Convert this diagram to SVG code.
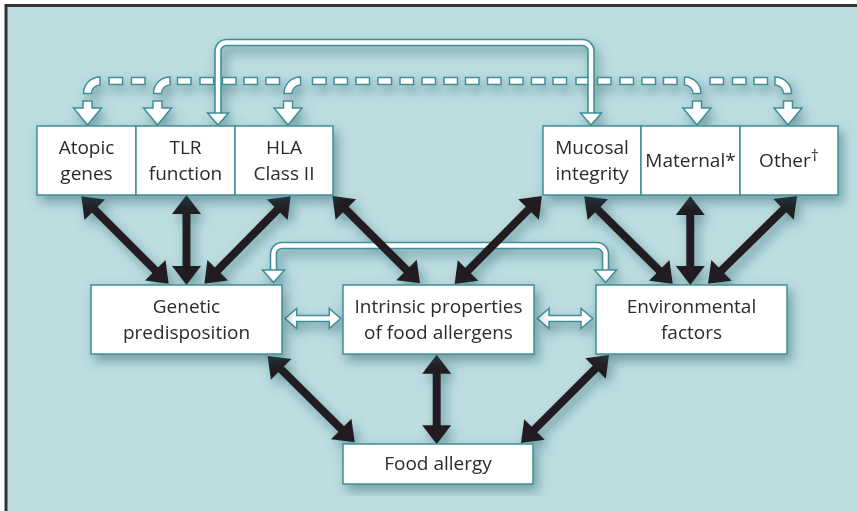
<svg xmlns="http://www.w3.org/2000/svg" width="857" height="511" viewBox="0 0 857 511">
<defs>
<filter id="sh" x="-20%" y="-20%" width="140%" height="150%">
<feDropShadow dx="4" dy="6" stdDeviation="6" flood-color="#1f5d66" flood-opacity="0.5"/>
</filter>
<marker id="bh" markerUnits="userSpaceOnUse" markerWidth="40" markerHeight="40" refX="8" refY="0" orient="auto-start-reverse" overflow="visible">
<path d="M0,-14.5 L19,0 L0,14.5 Z" fill="#231f20"/>
</marker>
<style>
.box{fill:#fff;stroke:#3f8f97;stroke-width:1.5}
.t{font-family:"Open Sans","Liberation Sans",sans-serif;font-size:19px;fill:#2b2b2b;text-anchor:middle}
.dash,.hol{fill:#fff;stroke:#3f8f97;stroke-width:1.5}
.blk{stroke:#231f20;stroke-width:8;fill:none;marker-start:url(#bh);marker-end:url(#bh)}
.lo{fill:none;stroke:#3f8f97;stroke-width:7.6}
.li{fill:none;stroke:#fff;stroke-width:4.4}
</style>
</defs>
<rect x="0" y="0" width="857" height="511" fill="#fff"/>
<rect x="6" y="5.5" width="870" height="520" fill="#bddde1" stroke="#333" stroke-width="3"/>

<g id="connectors" filter="url(#sh)">
<g id="dashed-links">
<rect class="dash" x="109" y="77.5" width="13.5" height="7"/>
<rect class="dash" x="131.5" y="77.5" width="13.5" height="7"/>
<rect class="dash" x="177.5" y="77.5" width="13.5" height="7"/>
<rect class="dash" x="200" y="77.5" width="13.5" height="7"/>
<rect class="dash" x="222.5" y="77.5" width="13.5" height="7"/>
<rect class="dash" x="244" y="77.5" width="13.5" height="7"/>
<rect class="dash" x="266" y="77.5" width="13.5" height="7"/>
<rect class="dash" x="312.5" y="77.5" width="13.5" height="7"/>
<rect class="dash" x="334" y="77.5" width="13.5" height="7"/>
<rect class="dash" x="356" y="77.5" width="13.5" height="7"/>
<rect class="dash" x="378" y="77.5" width="13.5" height="7"/>
<rect class="dash" x="400" y="77.5" width="13.5" height="7"/>
<rect class="dash" x="422" y="77.5" width="13.5" height="7"/>
<rect class="dash" x="444" y="77.5" width="13.5" height="7"/>
<rect class="dash" x="465.5" y="77.5" width="13.5" height="7"/>
<rect class="dash" x="487.5" y="77.5" width="13.5" height="7"/>
<rect class="dash" x="509.5" y="77.5" width="13.5" height="7"/>
<rect class="dash" x="531.5" y="77.5" width="13.5" height="7"/>
<rect class="dash" x="553" y="77.5" width="13.5" height="7"/>
<rect class="dash" x="576" y="77.5" width="13.5" height="7"/>
<rect class="dash" x="597.5" y="77.5" width="13.5" height="7"/>
<rect class="dash" x="620" y="77.5" width="13.5" height="7"/>
<rect class="dash" x="642" y="77.5" width="13.5" height="7"/>
<rect class="dash" x="663.5" y="77.5" width="13.5" height="7"/>
<rect class="dash" x="710" y="77.5" width="13.5" height="7"/>
<rect class="dash" x="732.5" y="77.5" width="13.5" height="7"/>
<rect class="dash" x="754" y="77.5" width="13.5" height="7"/>
<path class="dash" d="M100,77 A16.5,16.5 0 0 0 83.5,93.5 L91.5,93.5 A8.5,8.5 0 0 1 100,85 Z"/>
<path class="dash" d="M170,77 A16.5,16.5 0 0 0 153.5,93.5 L161.5,93.5 A8.5,8.5 0 0 1 170,85 Z"/>
<path class="dash" d="M300.5,77 A16.5,16.5 0 0 0 284,93.5 L292,93.5 A8.5,8.5 0 0 1 300.5,85 Z"/>
<path class="dash" d="M684.5,77 A16.5,16.5 0 0 1 701,93.5 L693,93.5 A8.5,8.5 0 0 0 684.5,85 Z"/>
<path class="dash" d="M775,77 A16.5,16.5 0 0 1 791.5,93.5 L783.5,93.5 A8.5,8.5 0 0 0 775,85 Z"/>
<path class="hol" d="M83,101 H92 V108 H101.5 L87.5,125 L73.5,108 H83 Z"/>
<path class="hol" d="M153,101 H162 V108 H171.5 L157.5,125 L143.5,108 H153 Z"/>
<path class="hol" d="M283.5,101 H292.5 V108 H302 L288,125 L274,108 H283.5 Z"/>
<path class="hol" d="M692.5,101 H701.5 V108 H711 L697,125 L683,108 H692.5 Z"/>
<path class="hol" d="M783.5,101 H792.5 V108 H802 L788,125 L774,108 H783.5 Z"/>
</g>
<g id="top-link">
<path class="lo" d="M218,114 V51 A8.5,8.5 0 0 1 226.5,42.5 H582.5 A8.5,8.5 0 0 1 591,51 V114"/>
<path class="li" d="M218,116 V51 A8.5,8.5 0 0 1 226.5,42.5 H582.5 A8.5,8.5 0 0 1 591,51 V116"/>
<path class="hol" d="M207.5,113 H228.5 L218,125 Z"/>
<path class="hol" d="M580.5,113 H601.5 L591,125 Z"/>
</g>
<g id="middle-link">
<path class="lo" d="M273.5,271 V254 A8.5,8.5 0 0 1 282,245.5 H597 A8.5,8.5 0 0 1 605.5,254 V271"/>
<path class="li" d="M273.5,273 V254 A8.5,8.5 0 0 1 282,245.5 H597 A8.5,8.5 0 0 1 605.5,254 V273"/>
<path class="hol" d="M262.5,270 H284.5 L273.5,282.5 Z"/>
<path class="hol" d="M594.5,270 H616.5 L605.5,282.5 Z"/>
</g>
<g id="black-arrows">
<line class="blk" x1="89.1" y1="204.1" x2="160.9" y2="275.9"/>
<line class="blk" x1="186.5" y1="206" x2="186.5" y2="274"/>
<line class="blk" x1="282.9" y1="204.1" x2="212.1" y2="275.9"/>
<line class="blk" x1="340.2" y1="203.8" x2="412.2" y2="275.6"/>
<line class="blk" x1="534.2" y1="203.8" x2="462.4" y2="276.2"/>
<line class="blk" x1="592.1" y1="204" x2="664.9" y2="276"/>
<line class="blk" x1="690.3" y1="207" x2="690.3" y2="274"/>
<line class="blk" x1="789.2" y1="203.8" x2="715.8" y2="276"/>
<line class="blk" x1="275.4" y1="363.7" x2="346.9" y2="434.6"/>
<line class="blk" x1="436.7" y1="365.7" x2="436.7" y2="433.3"/>
<line class="blk" x1="601.2" y1="362.8" x2="528.8" y2="435.2"/>
</g>
<g id="side-arrows">
<path class="hol" d="M285,318.5 L296.7,308.5 V315.5 H329.3 V308.5 L340.7,318.5 L329.3,328.5 V321.5 H296.7 V328.5 Z"/>
<path class="hol" d="M537.3,318.5 L549,308.5 V315.5 H581 V308.5 L592.7,318.5 L581,328.5 V321.5 H549 V328.5 Z"/>
</g>
</g>

<g filter="url(#sh)">
<g id="atopic-genes"><rect class="box" x="37" y="126" width="99" height="69"/>
<text class="t" x="86.5" y="154">Atopic</text><text class="t" x="86.5" y="180">genes</text></g>
<g id="tlr-function"><rect class="box" x="136" y="126" width="99" height="69"/>
<text class="t" x="185.5" y="154">TLR</text><text class="t" x="185.5" y="180">function</text></g>
<g id="hla-class-ii"><rect class="box" x="235" y="126" width="98" height="69"/>
<text class="t" x="284" y="154">HLA</text><text class="t" x="284" y="180">Class II</text></g>
</g>
<g filter="url(#sh)">
<g id="mucosal-integrity"><rect class="box" x="543" y="126" width="98" height="69"/>
<text class="t" x="592" y="154">Mucosal</text><text class="t" x="592" y="180">integrity</text></g>
<g id="maternal"><rect class="box" x="641" y="126" width="99" height="69"/>
<text class="t" x="690.5" y="167">Maternal*</text></g>
<g id="other"><rect class="box" x="740" y="126" width="98" height="69"/>
<text class="t" x="789" y="167">Other<tspan font-size="16" dy="-6">†</tspan></text></g>
</g>
<g id="genetic-predisposition" filter="url(#sh)"><rect class="box" x="91" y="285" width="191" height="69"/>
<text class="t" x="186.5" y="313">Genetic</text><text class="t" x="186.5" y="339">predisposition</text></g>
<g id="intrinsic-properties" filter="url(#sh)"><rect class="box" x="343" y="285" width="191" height="69"/>
<text class="t" x="438.5" y="313">Intrinsic properties</text><text class="t" x="438.5" y="339">of food allergens</text></g>
<g id="environmental-factors" filter="url(#sh)"><rect class="box" x="596" y="285" width="191" height="69"/>
<text class="t" x="691.5" y="313">Environmental</text><text class="t" x="691.5" y="339">factors</text></g>
<g id="food-allergy" filter="url(#sh)"><rect class="box" x="343" y="444" width="190" height="40"/>
<text class="t" x="438" y="470">Food allergy</text></g>
</svg>
